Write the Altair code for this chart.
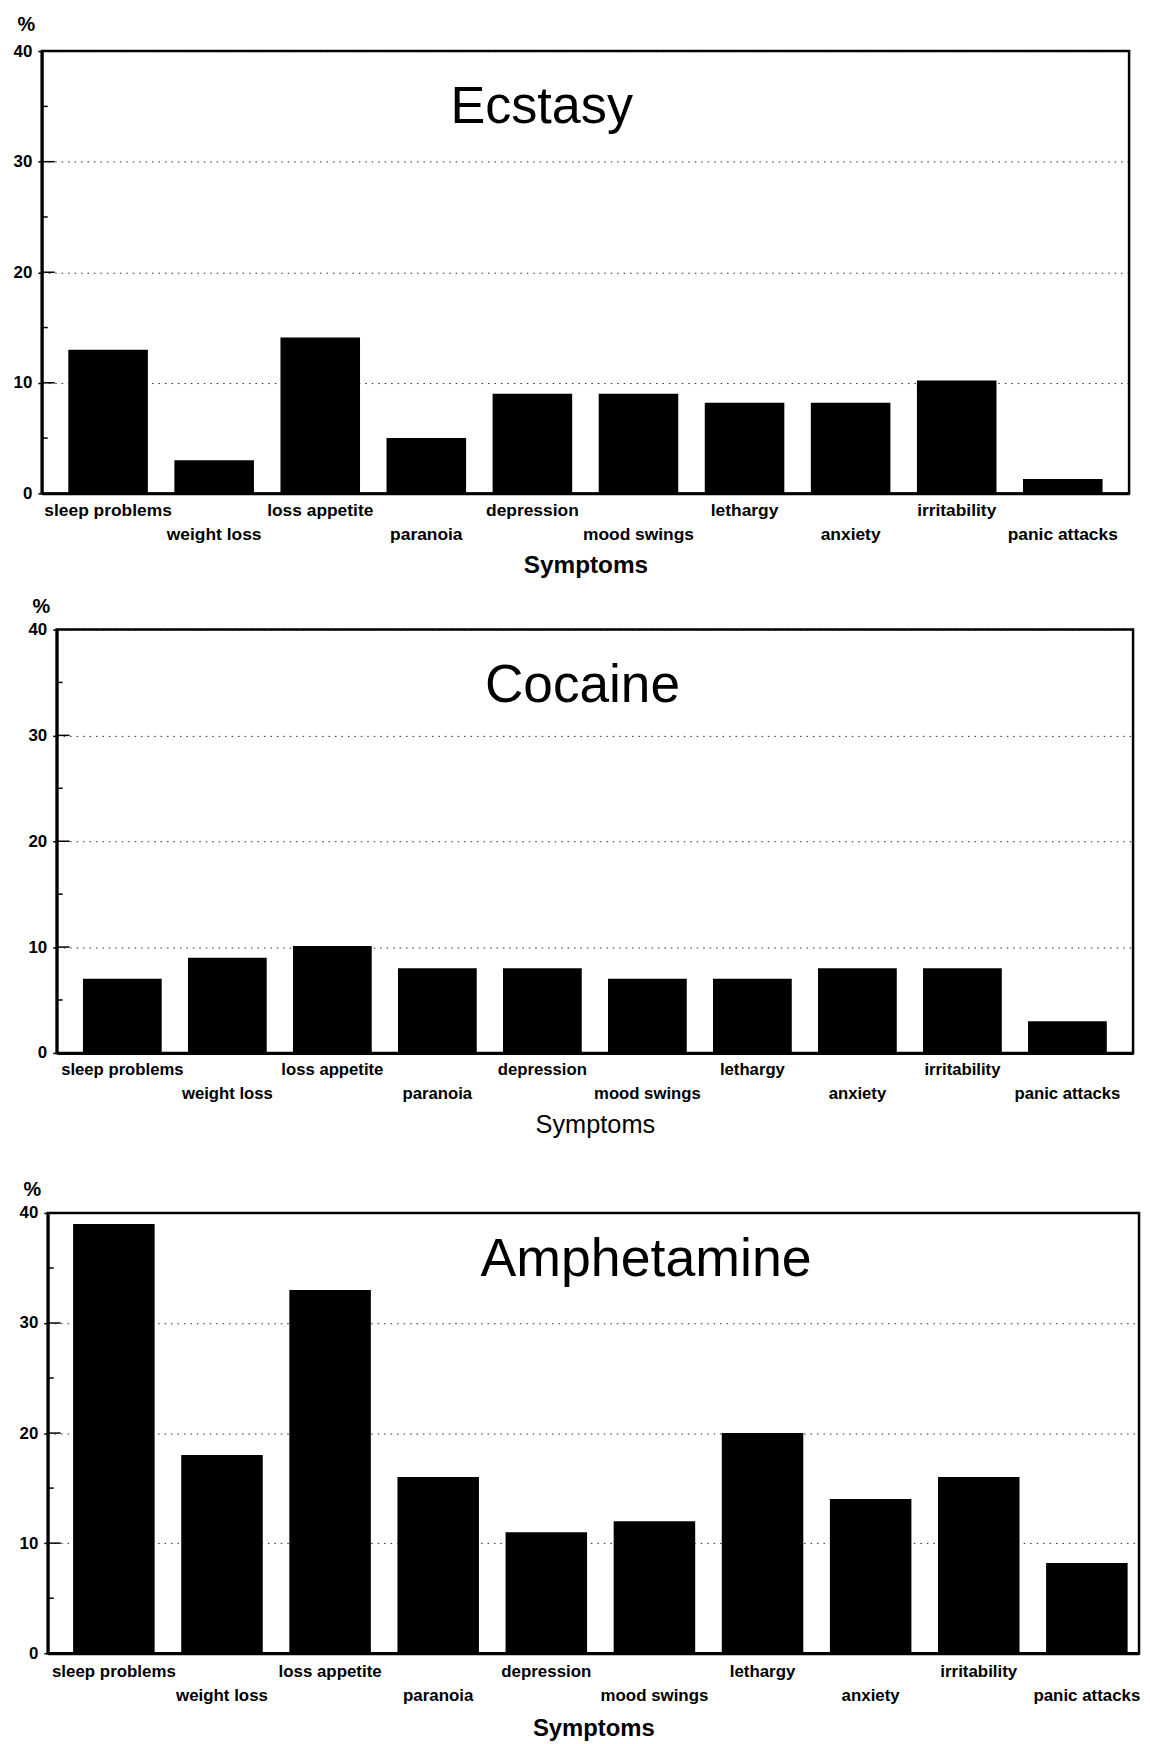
import altair as alt
import pandas as pd

symptoms = ["sleep problems", "weight loss", "loss appetite", "paranoia", "depression",
            "mood swings", "lethargy", "anxiety", "irritability", "panic attacks"]
ecstasy = [13, 3, 14.1, 5, 9, 9, 8.2, 8.2, 10.2, 1.3]
cocaine = [7, 9, 10.1, 8, 8, 7, 7, 8, 8, 3]
amphetamine = [39, 18, 33, 16, 11, 12, 20, 14, 16, 8.2]
y_ticks = [0, 10, 20, 30, 40]
minor_ticks = [5, 15, 25, 35]
major_inner = [10, 20, 30]

FONT = "Liberation Sans"
second_row = symptoms[1::2]
label_expr = ("indexof(" + str(second_row).replace('"', "'") +
              ", datum.value) >= 0 ? ['', datum.value] : datum.value")


def panel(name, values, width, height, title_x, title_y, title_size, sym_bold,
          sym_size, sym_pad, lab_size, lab_pad, lab_lh, pct_y,
          p_inner=0.25, p_outer=0.25, band_align=0.5):
    df = pd.DataFrame({"symptom": symptoms, "pct": values})
    x = alt.X("symptom:N", sort=symptoms,
              scale=alt.Scale(paddingInner=p_inner, paddingOuter=p_outer, align=band_align),
              axis=alt.Axis(title="Symptoms", labelAngle=0, labelExpr=label_expr,
                            labelFont=FONT, labelFontWeight="bold", labelFontSize=lab_size,
                            labelColor="black", labelPadding=lab_pad, labelBaseline="alphabetic",
                            labelLineHeight=lab_lh, labelOverlap=False, ticks=False,
                            domainColor="black", domainWidth=3,
                            titleFont=FONT, titleFontSize=sym_size,
                            titleFontWeight="bold" if sym_bold else "normal",
                            titleColor="black", titlePadding=sym_pad))
    y = alt.Y("pct:Q", scale=alt.Scale(domain=[0, 40], nice=False),
              axis=alt.Axis(title="%", values=y_ticks, titleAngle=0, titleAlign="center",
                            titleX=-16, titleY=pct_y, titleBaseline="alphabetic",
                            titleFont=FONT, titleFontSize=20, titleFontWeight="bold",
                            titleColor="black",
                            labelFont=FONT, labelFontWeight="bold", labelFontSize=17,
                            labelColor="black", labelPadding=6, tickSize=4,
                            tickColor="black", tickWidth=1.5,
                            domainColor="black", domainWidth=3,
                            grid=True, gridColor="black", gridDash=[1.5, 5],
                            gridWidth=1, gridOpacity=0.85))
    bars = alt.Chart(df).mark_bar(color="black").encode(x=x, y=y)
    minor = alt.Chart(pd.DataFrame({"v": minor_ticks})).mark_rule(
        color="black", strokeWidth=1.5).encode(
        y="v:Q", x=alt.value(0), x2=alt.value(6))
    inner = alt.Chart(pd.DataFrame({"v": major_inner})).mark_rule(
        color="black", strokeWidth=1.5).encode(
        y="v:Q", x=alt.value(0), x2=alt.value(13))
    label = alt.Chart(pd.DataFrame({"t": [name]})).mark_text(
        font=FONT, fontSize=title_size, color="black", align="center",
        baseline="alphabetic").encode(
        text="t:N", x=alt.value(title_x), y=alt.value(title_y))
    return alt.layer(bars, minor, inner, label).properties(
        width=width, height=height,
        view=alt.ViewBackground(stroke="black", strokeWidth=2.5))


def indent(chart, w):
    # empty, invisible strip that shifts a panel to the right
    strip = alt.Chart(pd.DataFrame({"s": [0]})).mark_rule(
        strokeOpacity=0, opacity=0).encode(
        x=alt.value(1), y=alt.value(0), y2=alt.value(1)).properties(
        width=w, height=1, view=alt.ViewBackground(stroke=None))
    return alt.hconcat(strip, chart, spacing=0)


p1 = panel("Ecstasy", ecstasy, 1094, 445, 503, 72, 52.5, True,
           24.5, 11.5, 17.5, 22, 24, -21)
p2 = panel("Cocaine", cocaine, 1083, 426, 529, 73, 53.5, False,
           25.5, 10, 16.8, 22, 24, -17)
p3 = panel("Amphetamine", amphetamine, 1098, 443, 602, 63, 54, True,
           24, 12.7, 17, 23, 25, -18,
           p_inner=0.246, p_outer=0.17, band_align=0.69)

chart = alt.vconcat(
    alt.vconcat(indent(p1, 2.8), indent(p2, 17.4), spacing=16),
    indent(p3, 8.3), spacing=38
).properties(
    padding={"left": 0, "top": -1, "right": 0, "bottom": 0}
).configure_view(stroke=None).configure(background="white")

chart.save("out.html", embed_options={"renderer": "svg", "actions": False})
